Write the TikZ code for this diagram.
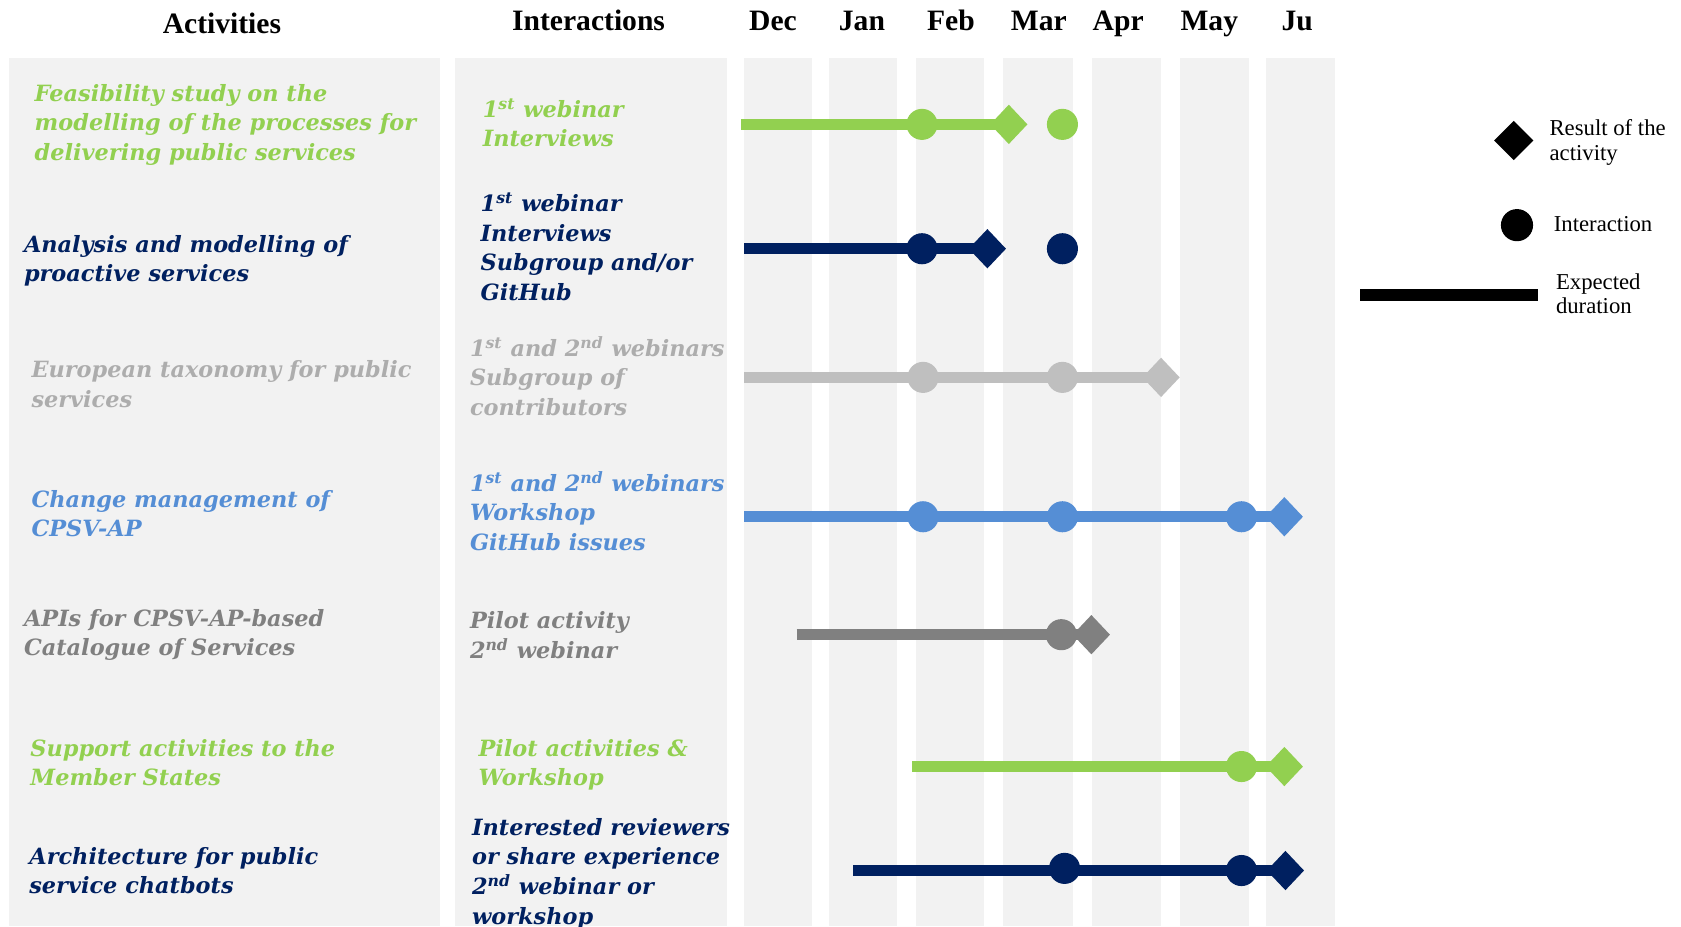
\documentclass[tikz,border=0pt]{standalone}
\usepackage{fontspec}
\setmainfont{Liberation Serif}
\newfontfamily\actfont{DejaVu Serif}
\usetikzlibrary{shapes.geometric}
\definecolor{cgreen}{HTML}{92D050}
\definecolor{cnavy}{HTML}{002060}
\definecolor{clgray}{HTML}{BFBFBF}
\definecolor{clgraytxt}{HTML}{ADADAD}
\definecolor{cblue}{HTML}{558ED5}
\definecolor{cdgray}{HTML}{808080}
\definecolor{cpanel}{HTML}{F2F2F2}
\pgfdeclarelayer{back}
\pgfdeclarelayer{mid}
\pgfsetlayers{back,mid,main}
\begin{document}
\begin{tikzpicture}[x=0.5pt,y=-0.5pt,
  panelbox/.style={fill=cpanel,draw=none},
  hdr/.style={font=\fontsize{13.8}{16}\selectfont\bfseries,inner sep=0,anchor=base},
  txt/.style={font=\actfont\fontsize{10.45}{13.8}\selectfont\bfseries\itshape,align=left,anchor=north west,inner sep=0,text=#1},
  mbar/.style={line width=5.3pt,draw=#1},
  mdot/.style={circle,minimum size=14.5pt,inner sep=0,fill=#1},
  mgem/.style={diamond,minimum width=17.5pt,minimum height=18.5pt,inner sep=0,fill=#1},
  leg/.style={font=\fontsize{10.6}{11.5}\selectfont,align=left,anchor=west,inner sep=0}]
\useasboundingbox (0,0) rectangle (1568,864);
\begin{pgfonlayer}{back}
  \fill[white] (0,0) rectangle (1568,864);
  \path[panelbox] (8,54) rectangle (410,864);
  \path[panelbox] (424,54) rectangle (678,864);
  \foreach \a/\b in {694/757,773/837,854/918,936/1001,1019/1083,1101/1165,1181/1245}
    \path[panelbox] (\a,54) rectangle (\b,864);
\end{pgfonlayer}
% headers
\node[hdr] (hact) at (207,31) {Activities};
\node[hdr] (hint) at (549,28) {Interactions};
\node[hdr] (mdec) at (721,28) {Dec};
\node[hdr] (mjan) at (804,28) {Jan};
\node[hdr] (mfeb) at (887,28) {Feb};
\node[hdr] (mmar) at (969,28) {Mar};
\node[hdr] (mapr) at (1043,28) {Apr};
\node[hdr] (mmay) at (1128,28) {May};
\node[hdr] (mjun) at (1210,28) {Ju};
% activities
\node[txt=cgreen] (a1) at (32,74.5) {\strut Feasibility study on the\\modelling of the processes for\\delivering public services};
\node[txt=cnavy] (a2) at (22,215.5) {\strut Analysis and modelling of\\proactive services};
\node[txt=clgraytxt] (a3) at (29,332.5) {\strut European taxonomy for public\\services};
\node[txt=cblue] (a4) at (29,453.5) {\strut Change management of\\CPSV-AP};
\node[txt=cdgray] (a5) at (22,564.5) {\strut APIs for CPSV-AP-based\\Catalogue of Services};
\node[txt=cgreen] (a6) at (28,685.5) {\strut Support activities to the\\Member States};
\node[txt=cnavy] (a7) at (27,786.5) {\strut Architecture for public\\service chatbots};
% interactions
\node[txt=cgreen] (i1) at (450,89.5) {\strut 1\textsuperscript{st} webinar\\Interviews};
\node[txt=cnavy] (i2) at (448,177.5) {\strut 1\textsuperscript{st} webinar\\Interviews\\Subgroup and/or\\GitHub};
\node[txt=clgraytxt] (i3) at (438,312.5) {\strut 1\textsuperscript{st} and 2\textsuperscript{nd} webinars\\Subgroup of\\contributors};
\node[txt=cblue] (i4) at (438,438.5) {\strut 1\textsuperscript{st} and 2\textsuperscript{nd} webinars\\Workshop\\GitHub issues};
\node[txt=cdgray] (i5) at (438,566.5) {\strut Pilot activity\\2\textsuperscript{nd} webinar};
\node[txt=cgreen] (i6) at (446,685.5) {\strut Pilot activities \&\\Workshop};
\node[txt=cnavy] (i7) at (440,759.5) {\strut Interested reviewers\\or share experience\\2\textsuperscript{nd} webinar or\\workshop};
% gantt row 1
\coordinate (s1) at (691,116);
\node[mdot=cgreen] (c11) at (860,116) {};
\node[mgem=cgreen] (d1) at (941,116) {};
\node[mdot=cgreen] (c12) at (991,116) {};
% row 2
\coordinate (s2) at (694,232);
\node[mdot=cnavy] (c21) at (860,232) {};
\node[mgem=cnavy] (d2) at (921,232) {};
\node[mdot=cnavy] (c22) at (991,232) {};
% row 3
\coordinate (s3) at (694,352);
\node[mdot=clgray] (c31) at (861,352) {};
\node[mdot=clgray] (c32) at (991,352) {};
\node[mgem=clgray] (d3) at (1083,352) {};
% row 4
\coordinate (s4) at (694,482);
\node[mdot=cblue] (c41) at (861,482) {};
\node[mdot=cblue] (c42) at (991,482) {};
\node[mdot=cblue] (c43) at (1158,482) {};
\node[mgem=cblue] (d4) at (1198,482) {};
% row 5
\coordinate (s5) at (743,592);
\node[mdot=cdgray] (c51) at (990,592) {};
\node[mgem=cdgray] (d5) at (1018,592) {};
% row 6
\coordinate (s6) at (851,715);
\node[mdot=cgreen] (c61) at (1158,715) {};
\node[mgem=cgreen] (d6) at (1198,715) {};
% row 7
\coordinate (s7) at (796,812);
\node[mdot=cnavy] (c71) at (993,810) {};
\node[mdot=cnavy] (c72) at (1158,812) {};
\node[mgem=cnavy] (d7) at (1199,812) {};
\begin{pgfonlayer}{mid}
  \draw[mbar=cgreen] (s1) -- (d1.center);
  \draw[mbar=cnavy] (s2) -- (d2.center);
  \draw[mbar=clgray] (s3) -- (d3.center);
  \draw[mbar=cblue] (s4) -- (d4.center);
  \draw[mbar=cdgray] (s5) -- (d5.center);
  \draw[mbar=cgreen] (s6) -- (d6.center);
  \draw[mbar=cnavy] (s7) -- (d7.center);
\end{pgfonlayer}
% legend
\node[mgem=black,minimum width=18.5pt,minimum height=18.5pt] (lgem) at (1412,131) {};
\node[leg] (lgemt) at (1445,133) {Result of the\\activity};
\node[mdot=black,minimum size=15pt] (ldot) at (1415,210) {};
\node[leg] (ldott) at (1449,209) {Interaction};
\coordinate (lb1) at (1269,275);
\coordinate (lb2) at (1435,275);
\draw[mbar=black] (lb1) -- (lb2);
\node[leg] (lbart) at (1451,274) {Expected\\duration};
\end{tikzpicture}
\end{document}
